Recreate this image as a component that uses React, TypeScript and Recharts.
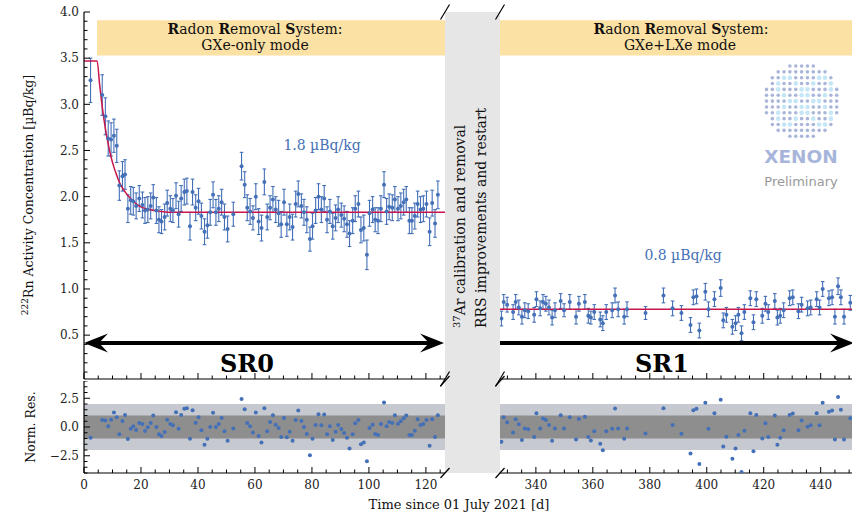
import React from "react";
import { ComposedChart, Scatter, Line, XAxis, YAxis, ErrorBar, ReferenceArea } from "recharts";

const SERIF = "'DejaVu Serif', serif";
const BLUE = "#4470b8";
const RED = "#c8164a";
const RRS_BAND = "#fce1a4";
const SIGMA2 = "#c6c9cf";
const SIGMA1 = "#8e8e8e";
const AXIS = { stroke: "#000", strokeWidth: 1.2 };

// SR0: RRS in GXe-only mode (days since 01 July 2021)
const sr0Day = [
  2.3, 6.4, 7.5, 8.5, 9.5, 10.5, 11.5, 12.4, 13.5, 14.4,
  15.4, 16.4, 17.3, 18.3, 19.4, 20.5, 21.4, 22.4, 23.4, 24.3,
  25.4, 26.3, 27.2, 28.3, 29.2, 30.3, 31.2, 32.3, 33.2, 34.1,
  35.2, 36.1, 37.2, 38.1, 39.2, 40.2, 41.2, 42.3, 43.3, 44.3,
  45.3, 46.3, 47.3, 48.3, 49.3, 50.4, 52.4, 55.3, 56.4, 57.3,
  58.3, 59.3, 60.3, 61.3, 62.3, 63.3, 64.3, 65.3, 66.3, 67.3,
  68.3, 69.2, 70.2, 71.2, 72.2, 73.2, 74.3, 75.2, 76.3, 77.2,
  78.2, 79.3, 80.2, 81.3, 82.3, 83.3, 84.3, 85.3, 86.3, 87.3,
  88.3, 89.2, 90.3, 91.3, 92.3, 93.2, 94.3, 95.2, 96.3, 97.2,
  98.2, 99.3, 100.2, 101.3, 102.2, 103.2, 104.2, 105.3, 106.2, 107.1,
  108.2, 109.1, 110.2, 111.2, 112.2, 113.1, 114.2, 115.1, 116.1, 117.1,
  118.1, 119.1, 120.2, 121.3, 122.2, 123.2, 124.2,
];
const sr0Conc = [
  3.26, 3.10, 2.87, 2.63, 2.62, 2.66, 2.55, 2.12, 2.22, 2.24,
  1.87, 1.96, 1.95, 1.90, 1.98, 1.91, 1.85, 1.86, 1.90, 1.99,
  1.85, 1.75, 1.73, 1.78, 1.93, 1.87, 1.85, 2.01, 1.81, 1.98,
  2.05, 2.06, 1.68, 2.05, 1.88, 1.95, 1.79, 1.62, 1.69, 1.83,
  2.02, 1.83, 1.87, 1.94, 1.78, 1.65, 1.81, 2.33, 2.13, 1.88,
  1.84, 1.77, 2.00, 1.73, 1.66, 2.16, 1.78, 1.88, 1.97, 1.86,
  1.82, 1.70, 1.94, 1.70, 1.78, 1.67, 1.92, 2.03, 1.90, 1.83,
  1.75, 1.54, 1.68, 1.85, 2.00, 1.86, 1.98, 1.75, 1.84, 1.68,
  1.77, 1.86, 1.80, 1.76, 1.70, 1.60, 1.74, 1.87, 1.92, 1.64,
  1.66, 1.37, 1.82, 1.86, 1.75, 1.74, 1.87, 2.13, 1.84, 1.89,
  1.88, 1.97, 1.87, 1.90, 1.94, 1.97, 1.74, 1.74, 1.79, 1.92,
  1.86, 1.87, 1.92, 1.62, 1.93, 1.71, 2.02,
];
const sr0Err = [
  0.24, 0.22, 0.20, 0.19, 0.18, 0.18, 0.18, 0.16, 0.16, 0.16,
  0.15, 0.15, 0.15, 0.14, 0.14, 0.14, 0.14, 0.14, 0.14, 0.14,
  0.14, 0.14, 0.13, 0.14, 0.14, 0.14, 0.13, 0.14, 0.14, 0.14,
  0.14, 0.14, 0.15, 0.14, 0.14, 0.14, 0.14, 0.14, 0.14, 0.14,
  0.14, 0.14, 0.14, 0.14, 0.14, 0.14, 0.13, 0.15, 0.14, 0.14,
  0.14, 0.13, 0.14, 0.14, 0.14, 0.14, 0.14, 0.13, 0.14, 0.14,
  0.14, 0.14, 0.14, 0.13, 0.14, 0.14, 0.14, 0.14, 0.13, 0.14,
  0.14, 0.13, 0.14, 0.14, 0.14, 0.14, 0.14, 0.14, 0.13, 0.14,
  0.14, 0.14, 0.13, 0.14, 0.14, 0.14, 0.14, 0.14, 0.14, 0.14,
  0.14, 0.16, 0.14, 0.14, 0.13, 0.14, 0.14, 0.14, 0.14, 0.14,
  0.14, 0.14, 0.13, 0.14, 0.14, 0.14, 0.14, 0.14, 0.14, 0.14,
  0.14, 0.14, 0.14, 0.15, 0.14, 0.15, 0.15,
];
const sr0Res = [
  -0.94, 0.61, 0.56, 0.06, 0.64, 1.26, 0.85, -0.64, 0.53, 1.05,
  -1.05, -0.15, 0.06, -0.26, 0.35, 0.26, -0.35, -0.03, 0.35, 0.99,
  0.0, -0.64, -0.79, -0.44, 0.64, 0.26, 0.15, 1.29, -0.15, 1.05,
  1.58, 1.64, -1.02, 1.46, 0.38, 0.85, -0.29, -1.55, -1.02, 0.0,
  1.23, 0.0, 0.26, 0.79, -0.38, -1.2, -0.12, 2.43, 1.55, 0.35,
  0.06, -0.47, 1.26, -0.79, -1.35, 1.64, -0.38, 0.44, 1.02, 0.2,
  -0.09, -0.88, 0.79, -0.9, -0.41, -1.2, 0.61, 1.43, 0.53, 0.0,
  -0.61, -2.46, -1.02, 0.18, 1.11, 0.15, 1.08, -0.64, 0.06, -1.14,
  -0.41, 0.18, -0.18, -0.53, -0.94, -1.87, -0.64, 0.32, 0.61, -1.49,
  -1.35, -2.98, -0.09, 0.2, -0.61, -0.7, 0.26, 2.13, 0.06, 0.44,
  0.35, 1.02, 0.29, 0.5, 0.76, 1.0, -0.7, -0.7, -0.32, 0.67,
  0.18, 0.26, 0.61, -1.64, 0.67, -0.88, 1.02,
];

// SR1: RRS in GXe+LXe mode
const sr1Day = [
  327.9, 328.7, 329.9, 332.0, 332.9, 334.0, 335.1, 336.1, 337.3, 339.4,
  340.2, 341.5, 342.5, 343.5, 344.6, 345.7, 346.7, 348.7, 349.9, 351.9,
  354.1, 355.1, 357.2, 358.4, 359.3, 360.5, 362.6, 363.5, 364.7, 366.8,
  367.8, 368.9, 371.0, 372.0, 378.5, 384.8, 388.0, 391.1, 394.3, 395.3,
  396.4, 397.4, 399.5, 400.6, 402.7, 404.9, 405.8, 406.9, 409.0, 410.1,
  411.1, 412.2, 413.2, 415.3, 416.4, 417.4, 419.5, 420.6, 421.6, 423.9,
  424.8, 425.8, 427.0, 429.1, 430.2, 432.2, 433.3, 435.4, 436.5, 438.6,
  439.6, 440.7, 442.9, 444.0, 445.0, 446.1, 447.1, 448.2, 450.4,
];
const sr1Conc = [
  0.68, 0.86, 0.83, 0.75, 0.86, 0.80, 0.70, 0.77, 0.76, 0.72,
  0.89, 0.79, 0.86, 0.84, 0.80, 0.69, 0.77, 0.87, 0.77, 0.86,
  0.70, 0.84, 0.86, 0.71, 0.69, 0.75, 0.67, 0.63, 0.75, 0.77,
  0.93, 0.78, 0.70, 0.78, 0.74, 0.93, 0.79, 0.74, 0.61, 0.91,
  0.92, 0.55, 0.97, 0.78, 0.89, 1.01, 0.66, 0.72, 0.59, 0.63,
  0.72, 0.52, 0.75, 0.90, 0.64, 0.89, 0.71, 0.84, 0.75, 0.87,
  0.69, 0.71, 0.77, 0.90, 0.91, 0.76, 0.83, 0.79, 0.80, 0.89,
  0.80, 1.00, 0.90, 0.91, 0.70, 1.03, 0.91, 0.70, 0.85,
];
const sr1Err = [
  0.08, 0.08, 0.08, 0.08, 0.08, 0.08, 0.08, 0.08, 0.08, 0.08,
  0.08, 0.08, 0.08, 0.08, 0.08, 0.08, 0.08, 0.08, 0.07, 0.08,
  0.08, 0.08, 0.08, 0.08, 0.07, 0.08, 0.08, 0.08, 0.08, 0.08,
  0.08, 0.08, 0.08, 0.08, 0.07, 0.08, 0.08, 0.08, 0.08, 0.08,
  0.08, 0.08, 0.09, 0.08, 0.08, 0.09, 0.08, 0.08, 0.08, 0.08,
  0.08, 0.08, 0.08, 0.08, 0.08, 0.08, 0.08, 0.08, 0.08, 0.08,
  0.08, 0.08, 0.08, 0.08, 0.08, 0.08, 0.08, 0.08, 0.08, 0.08,
  0.08, 0.08, 0.08, 0.08, 0.08, 0.09, 0.08, 0.08, 0.08,
];
const sr1Res = [
  -1.29, 0.85, 0.41, -0.47, 0.67, 0.23, -1.14, -0.12, -0.2, -0.88,
  1.2, -0.12, 0.73, 0.61, 0.18, -1.2, -0.12, 1.02, -0.12, 0.85,
  -1.08, 0.7, 0.9, -0.88, -1.17, -0.38, -1.46, -2.02, -0.38, -0.15,
  1.61, -0.12, -1.02, -0.12, -0.56, 1.64, 0.18, -0.58, -2.31, 1.46,
  1.58, -3.22, 2.11, -0.15, 1.2, 2.37, -1.7, -0.85, -2.75, -1.87,
  -0.7, -3.92, -0.32, 1.2, -2.1, 1.05, -0.99, 0.32, -0.88, 0.99,
  -1.55, -0.94, -0.29, 1.05, 1.17, -0.29, 0.56, 0.03, 0.15, 1.2,
  0.15, 2.11, 1.32, 1.43, -1.08, 2.6, 1.49, -1.08, 0.76,
];

// fitted activity curves
const fit0Day = [0, 4.6, 5.5, 6.5, 7.5, 8.5, 9.5, 10.5, 11.5, 12.5, 14, 16, 18, 20, 23, 27, 32, 126.7];
const fit0Conc = [3.47, 3.47, 3.21, 2.95, 2.74, 2.57, 2.43, 2.32, 2.23, 2.15, 2.07, 1.99, 1.93, 1.89, 1.86, 1.84, 1.83, 1.83];
const fit1Day = [327.4, 451];
const fit1Conc = [0.78, 0.78];

const concMajor = [0.5, 1.0, 1.5, 2.0, 2.5, 3.0, 3.5, 4.0];
const resMajor = [-2.5, 0, 2.5];
const day0Major = [0, 20, 40, 60, 80, 100, 120];
const day1Major = [340, 360, 380, 400, 420, 440];

const DOMAIN0: [number, number] = [0, 126.7];
const DOMAIN1: [number, number] = [327.4, 451];
const CONC_DOMAIN: [number, number] = [0.025, 4.0];
const RES_DOMAIN: [number, number] = [-4, 4];

const steps = (lo: number, hi: number, step: number) => {
  const out: number[] = [];
  for (let k = Math.ceil(lo / step - 1e-9); k * step <= hi + 1e-9; k++) out.push(+(k * step).toFixed(4));
  return out;
};
const isMajor = (v: number, majors: number[]) => majors.some((m) => Math.abs(m - v) < 1e-6);
const fmt = (v: number) => (v < 0 ? "\u2212" : "") + Math.abs(v).toFixed(1);

const xTick = (majors: number[], side: "top" | "bottom", labels: boolean) => (p: any) => {
  const v = p.payload.value as number;
  const major = isMajor(v, majors);
  const len = major ? 6 : 3.5;
  return (
    <g>
      <line x1={p.x} x2={p.x} y1={p.y} y2={side === "bottom" ? p.y - len : p.y + len} stroke="#000" strokeWidth={1} />
      {labels && major ? (
        <text x={p.x} y={p.y + 15.5} textAnchor="middle" fontFamily={SERIF} fontSize={12} fill="#222">
          {v}
        </text>
      ) : null}
    </g>
  );
};

const yTick = (majors: number[]) => (p: any) => {
  const v = p.payload.value as number;
  const major = isMajor(v, majors);
  return (
    <g>
      <line x1={p.x} x2={p.x + (major ? 6 : 3.5)} y1={p.y} y2={p.y} stroke="#000" strokeWidth={1} />
      {major ? (
        <text x={p.x - 5} y={p.y + 4.3} textAnchor="end" fontFamily={SERIF} fontSize={12} fill="#222">
          {fmt(v)}
        </text>
      ) : null}
    </g>
  );
};

const dot = (p: any) => <circle cx={p.cx} cy={p.cy} r={2} fill={BLUE} />;

type MainProps = {
  left: number;
  width: number;
  domain: [number, number];
  majors: number[];
  minorStep: number;
  bandFrom: number;
  days: number[];
  conc: number[];
  err: number[];
  fitDay: number[];
  fitConc: number[];
  withYAxis: boolean;
};

function MainPanel(props: MainProps) {
  const { left, width, domain, majors, minorStep, bandFrom, withYAxis } = props;
  const points = props.days.map((t, i) => ({ t, c: props.conc[i], e: props.err[i] }));
  const fit = props.fitDay.map((t, i) => ({ t, c: props.fitConc[i] }));
  const dayTicks = steps(domain[0], domain[1], minorStep);
  return (
    <div style={{ position: "absolute", left, top: 0 }}>
      <ComposedChart width={width} height={381} margin={{ top: 12, right: 0, bottom: 0, left: 0 }}>
        <XAxis
          type="number"
          dataKey="t"
          domain={domain}
          allowDataOverflow
          ticks={dayTicks}
          interval={0}
          height={2}
          tickSize={0}
          tickMargin={0}
          tickLine={false}
          axisLine={AXIS}
          tick={xTick(majors, "bottom", false)}
        />
        <XAxis xAxisId="top" orientation="top" type="number" dataKey="t" domain={domain} allowDataOverflow height={0} tick={false} tickLine={false} axisLine={AXIS} />
        {withYAxis ? (
          <YAxis
            type="number"
            domain={CONC_DOMAIN}
            allowDataOverflow
            width={84}
            ticks={steps(0.1, 4.0, 0.1)}
            interval={0}
            tickSize={0}
            tickMargin={0}
            tickLine={false}
            axisLine={AXIS}
            tick={yTick(concMajor)}
          />
        ) : (
          <YAxis hide type="number" domain={CONC_DOMAIN} allowDataOverflow />
        )}
        <ReferenceArea x1={bandFrom} x2={domain[1]} y1={3.53} y2={3.91} fill={RRS_BAND} fillOpacity={1} stroke="none" />
        <Scatter data={points} dataKey="c" shape={dot} isAnimationActive={false}>
          <ErrorBar dataKey="e" direction="y" width={1.8} stroke={BLUE} strokeWidth={1.1} isAnimationActive={false} />
        </Scatter>
        <Line data={fit} dataKey="c" type="monotone" stroke={RED} strokeWidth={1.5} dot={false} activeDot={false} isAnimationActive={false} />
      </ComposedChart>
    </div>
  );
}

type ResProps = {
  left: number;
  width: number;
  domain: [number, number];
  majors: number[];
  days: number[];
  res: number[];
  withYAxis: boolean;
};

function ResidualPanel(props: ResProps) {
  const { left, width, domain, majors, withYAxis } = props;
  const points = props.days.map((t, i) => ({ t, r: props.res[i] }));
  const dayTicks = steps(domain[0], domain[1], 5);
  return (
    <div style={{ position: "absolute", left, top: 381 }}>
      <ComposedChart width={width} height={133} margin={{ top: 0, right: 0, bottom: 0, left: 0 }}>
        <XAxis
          type="number"
          dataKey="t"
          domain={domain}
          allowDataOverflow
          ticks={dayTicks}
          interval={0}
          height={41}
          tickSize={0}
          tickMargin={0}
          tickLine={false}
          axisLine={AXIS}
          tick={xTick(majors, "bottom", true)}
        />
        <XAxis
          xAxisId="top"
          orientation="top"
          type="number"
          dataKey="t"
          domain={domain}
          allowDataOverflow
          ticks={dayTicks}
          interval={0}
          height={0}
          tickSize={0}
          tickMargin={0}
          tickLine={false}
          axisLine={AXIS}
          tick={xTick(majors, "top", false)}
        />
        {withYAxis ? (
          <YAxis
            type="number"
            domain={RES_DOMAIN}
            allowDataOverflow
            width={84}
            ticks={steps(-4, 4, 0.5)}
            interval={0}
            tickSize={0}
            tickMargin={0}
            tickLine={false}
            axisLine={AXIS}
            tick={yTick(resMajor)}
          />
        ) : (
          <YAxis hide type="number" domain={RES_DOMAIN} allowDataOverflow />
        )}
        <ReferenceArea y1={-2} y2={2} fill={SIGMA2} fillOpacity={1} stroke="none" />
        <ReferenceArea y1={-1} y2={1} fill={SIGMA1} fillOpacity={1} stroke="none" />
        <Scatter data={points} dataKey="r" shape={dot} isAnimationActive={false} />
      </ComposedChart>
    </div>
  );
}

// break markers on the cut x-axis
const breakMarks = [
  { y: 12, h: 7.5 },
  { y: 379, h: 7.5 },
  { y: 381, h: 5 },
  { y: 473, h: 5 },
];

function XenonLogo() {
  const pattern = [
    ".............",
    ".............",
    "...cc....cc..",
    "..c..c..c..c.",
    "..c...cc...c.",
    "...c..cc..c..",
    "....cc..cc...",
    "...c..cc..c..",
    "..c...cc...c.",
    "..c..c..c..c.",
    "...cc....cc..",
    ".............",
    ".............",
  ];
  const dots: React.ReactNode[] = [];
  for (let i = 0; i < 13; i++) {
    for (let j = 0; j < 13; j++) {
      if ((i - 6) ** 2 + (j - 6) ** 2 > 6.5 ** 2) continue;
      const cyan = pattern[i][j] === "c";
      dots.push(<circle key={`${i}-${j}`} cx={766.5 + j * 5.85} cy={66 + i * 5.85} r={cyan ? 2.3 : 1.8} fill={cyan ? "#c4e6f6" : "#aab6d9"} />);
    }
  }
  return (
    <g>
      {dots}
      <text x={801} y={163} textAnchor="middle" fontFamily="'DejaVu Sans', sans-serif" fontWeight="bold" fontSize={18.5} fill="#a7b5da">
        XENON
      </text>
      <text x={801} y={186} textAnchor="middle" fontFamily="'DejaVu Sans', sans-serif" fontSize={13} fill="#999">
        Preliminary
      </text>
    </g>
  );
}

function Overlay() {
  return (
    <svg width={852} height={514} style={{ position: "absolute", left: 0, top: 0, pointerEvents: "none" }}>
      <rect x={445} y={12} width={55} height={461} fill="#e6e6e6" />
      {[445, 500].map((x) =>
        breakMarks.map((b) => (
          <line key={`${x}-${b.y}`} x1={x - 4.5} y1={b.y + b.h} x2={x + 4.5} y2={b.y - b.h} stroke="#000" strokeWidth={1.2} />
        ))
      )}

      <g fontFamily={SERIF} fontSize={14} fill="#111">
        <text x={255} y={34} textAnchor="middle">
          <tspan fontWeight="bold">R</tspan>adon{" "}<tspan fontWeight="bold">R</tspan>emoval{" "}<tspan fontWeight="bold">S</tspan>ystem:
        </text>
        <text x={255} y={49.5} textAnchor="middle">GXe-only mode</text>
        <text x={681} y={34} textAnchor="middle">
          <tspan fontWeight="bold">R</tspan>adon{" "}<tspan fontWeight="bold">R</tspan>emoval{" "}<tspan fontWeight="bold">S</tspan>ystem:
        </text>
        <text x={680} y={49.5} textAnchor="middle">GXe+LXe mode</text>

        <text transform="translate(465,328) rotate(-90)">
          <tspan fontSize={10} dy={-5}>37</tspan>
          <tspan dy={5}>Ar calibration and removal</tspan>
        </text>
        <text transform="translate(486,328) rotate(-90)">RRS improvements and restart</text>
      </g>

      <g fontFamily={SERIF} fontSize={14} fill={BLUE}>
        <text x={322} y={150} textAnchor="middle">1.8 µBq/kg</text>
        <text x={683} y={260} textAnchor="middle">0.8 µBq/kg</text>
      </g>

      <g fill="#000">
        <rect x={96} y={341} width={334} height={4} />
        <polygon points="84,343 108,333.5 99,343 108,352.5" />
        <polygon points="444,343 420,333.5 429,343 420,352.5" />
        <rect x={500} y={341} width={340} height={4} />
        <polygon points="854,343 830,333.5 839,343 830,352.5" />
      </g>
      <g fontFamily={SERIF} fontWeight="bold" fontSize={24} fill="#000">
        <text x={247} y={372} textAnchor="middle">SR0</text>
        <text x={662} y={372} textAnchor="middle">SR1</text>
      </g>

      <g fontFamily={SERIF} fontSize={12.5} fill="#111">
        <text transform="translate(33,195) rotate(-90)" textAnchor="middle">
          <tspan fontSize={9} dy={-5}>222</tspan>
          <tspan dy={5}>Rn Activity Concentration [µBq/kg]</tspan>
        </text>
        <text transform="translate(35,427) rotate(-90)" textAnchor="middle">Norm. Res.</text>
        <text x={459} y={509} textAnchor="middle" fontSize={13}>Time since 01 July 2021 [d]</text>
      </g>

      <XenonLogo />
    </svg>
  );
}

export default function App() {
  return (
    <div style={{ position: "absolute", left: 0, top: 0, width: 852, height: 514, background: "#fff", overflow: "hidden" }}>
      <MainPanel
        left={0}
        width={445}
        domain={DOMAIN0}
        majors={day0Major}
        minorStep={5}
        bandFrom={4.56}
        days={sr0Day}
        conc={sr0Conc}
        err={sr0Err}
        fitDay={fit0Day}
        fitConc={fit0Conc}
        withYAxis
      />
      <MainPanel
        left={500}
        width={352}
        domain={DOMAIN1}
        majors={day1Major}
        minorStep={5}
        bandFrom={DOMAIN1[0]}
        days={sr1Day}
        conc={sr1Conc}
        err={sr1Err}
        fitDay={fit1Day}
        fitConc={fit1Conc}
        withYAxis={false}
      />
      <ResidualPanel left={0} width={445} domain={DOMAIN0} majors={day0Major} days={sr0Day} res={sr0Res} withYAxis />
      <ResidualPanel left={500} width={352} domain={DOMAIN1} majors={day1Major} days={sr1Day} res={sr1Res} withYAxis={false} />
      <Overlay />
    </div>
  );
}
